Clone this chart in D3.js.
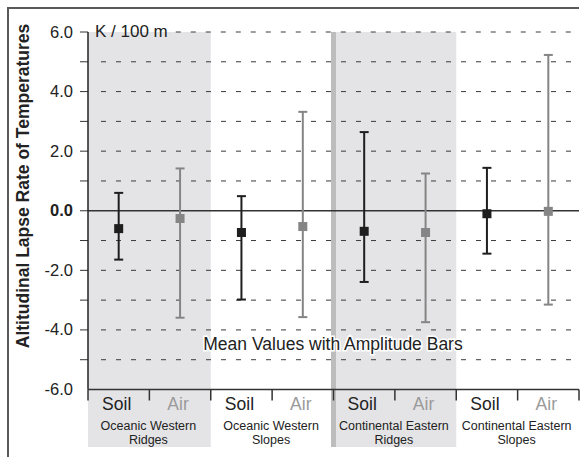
<!DOCTYPE html>
<html><head><meta charset="utf-8">
<script src="https://cdn.jsdelivr.net/npm/d3@7"></script>
<style>
body{margin:0;background:#fff;}
text{font-family:"Liberation Sans",Arial,sans-serif;}
</style></head>
<body>
<svg id="c" width="583" height="457"></svg>
<script>
const groups = [["Oceanic Western","Ridges"],["Oceanic Western","Slopes"],["Continental Eastern","Ridges"],["Continental Eastern","Slopes"]];
const seriesNames = ["Soil","Air"];
const means = [-0.6,-0.26,-0.73,-0.53,-0.69,-0.73,-0.1,-0.02];
const maxVals = [0.6,1.42,0.49,3.32,2.64,1.25,1.44,5.23];
const minVals = [-1.64,-3.59,-2.98,-3.57,-2.39,-3.74,-1.44,-3.15];
const yTicks = [6,4,2,0,-2,-4,-6];
const gridVals = [6,5,4,3,2,1,-1,-2,-3,-4,-5];
const shadedGroups = [0,2];
const unitLabel = "K / 100 m";
const yTitle = "Altitudinal Lapse Rate of Temperatures";
const note = "Mean Values with Amplitude Bars";

const svg = d3.select("#c");
const L = 88, R = 579, T = 32, B = 389.5;
const items = d3.range(8);
const x = d3.scaleBand().domain(items).range([L,R]).padding(0);
const gx = d3.scaleBand().domain(d3.range(4)).range([L,R]).padding(0);
const y = d3.scaleLinear().domain([-6,6]).range([B,T]);
const colors = {Soil:"#1e1e1e", Air:"#858585"};
const labelColors = {Soil:"#222", Air:"#9a9a9a"};

// frame
svg.append("path").attr("d",`M8,457 V8 H${R}`).attr("fill","none").attr("stroke","#5a5a5a").attr("stroke-width",2);

// shading
svg.selectAll("rect.shade").data(shadedGroups).join("rect")
  .attr("x",d=>gx(d)).attr("y",T).attr("width",gx.bandwidth()).attr("height",447-T)
  .attr("fill","#e4e4e6");
svg.append("rect").attr("x",gx(2)-2.5).attr("y",T).attr("width",5).attr("height",447-T).attr("fill","#bdbdbd");

// unit label (measured first so the top gridline starts after it)
const unit = svg.append("text").attr("x",95).attr("y",37).attr("font-size",17).attr("fill","#222").text(unitLabel);
const unitEnd = 95 + unit.node().getComputedTextLength();

// grid
svg.selectAll("line.grid").data(gridVals).join("line")
  .attr("x1",d=>d===6 ? unitEnd+8 : L+13).attr("x2",R).attr("y1",d=>y(d)).attr("y2",d=>y(d))
  .attr("stroke","#3a3a3a").attr("stroke-width",1).attr("stroke-dasharray","5,10");
svg.selectAll("line.tk").data(gridVals.concat([0])).join("line")
  .attr("x1",L-8).attr("x2",L).attr("y1",d=>y(d)).attr("y2",d=>y(d))
  .attr("stroke","#333").attr("stroke-width",1);
// zero line
svg.append("line").attr("x1",L).attr("x2",R).attr("y1",y(0)).attr("y2",y(0)).attr("stroke","#333").attr("stroke-width",1.5);

// y axis
svg.append("line").attr("x1",L).attr("x2",L).attr("y1",T).attr("y2",B).attr("stroke","#222").attr("stroke-width",1.5);
// x axis
svg.append("line").attr("x1",L).attr("x2",R).attr("y1",B).attr("y2",B).attr("stroke","#333").attr("stroke-width",1.5);
svg.selectAll("line.xt").data(items.concat([8])).join("line")
  .attr("x1",d=>L+d*x.bandwidth()).attr("x2",d=>L+d*x.bandwidth())
  .attr("y1",B).attr("y2",B+11).attr("stroke","#333").attr("stroke-width",1.5);

// y tick labels
svg.selectAll("text.yl").data(yTicks).join("text")
  .attr("x",73).attr("y",d=>y(d)+5.5).attr("text-anchor","end")
  .attr("font-size",16.5).attr("fill","#222")
  .attr("font-weight",d=>d===0?"bold":"normal")
  .text(d=>d3.format(".1f")(d).replace("−","-"));

// y title
svg.append("text").attr("transform","translate(29,186) rotate(-90)")
  .attr("text-anchor","middle").attr("font-size",17.5).attr("font-weight","bold").attr("fill","#222")
  .text(yTitle);

// error bars
const data = items.map(i=>({i, s:seriesNames[i%2], m:means[i], lo:minVals[i], hi:maxVals[i]}));
const eb = svg.selectAll("g.eb").data(data).join("g").attr("transform",d=>`translate(${x(d.i)+x.bandwidth()/2},0)`);
eb.append("line").attr("y1",d=>y(d.hi)).attr("y2",d=>y(d.lo)).attr("stroke",d=>colors[d.s]).attr("stroke-width",2);
eb.append("line").attr("x1",-4.5).attr("x2",4.5).attr("y1",d=>y(d.hi)).attr("y2",d=>y(d.hi)).attr("stroke",d=>colors[d.s]).attr("stroke-width",2);
eb.append("line").attr("x1",-4.5).attr("x2",4.5).attr("y1",d=>y(d.lo)).attr("y2",d=>y(d.lo)).attr("stroke",d=>colors[d.s]).attr("stroke-width",2);
eb.append("rect").attr("x",-4.5).attr("width",9).attr("y",d=>y(d.m)-4.5).attr("height",9).attr("fill",d=>colors[d.s]);

// note
svg.append("text").attr("x",333).attr("y",350).attr("text-anchor","middle").attr("font-size",17.5).attr("fill","#222")
  .attr("stroke","#fff").attr("stroke-width",3).attr("paint-order","stroke").text(note);

// x labels
svg.selectAll("text.xl").data(data).join("text")
  .attr("x",d=>x(d.i)+x.bandwidth()/2-2).attr("y",410).attr("text-anchor","middle")
  .attr("font-size",17.5).attr("fill",d=>labelColors[d.s]).text(d=>d.s);
const glines = groups.flatMap((g,i)=>g.map((t,k)=>({i,k,t})));
svg.selectAll("text.gl").data(glines).join("text")
  .attr("x",d=>gx(d.i)+gx.bandwidth()/2-1).attr("y",d=>429.5+d.k*14)
  .attr("text-anchor","middle").attr("font-size",12.5).attr("fill","#222").text(d=>d.t);
</script>
</body></html>
